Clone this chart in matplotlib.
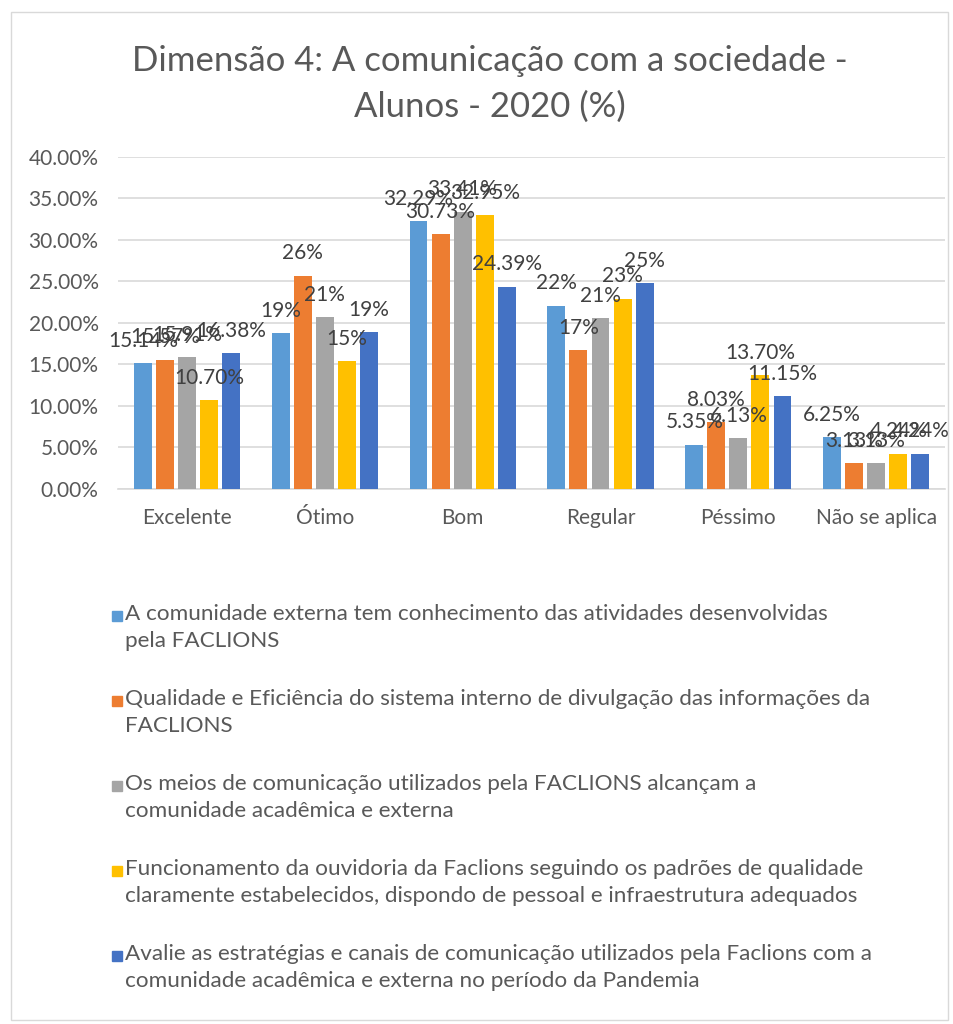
import matplotlib.pyplot as plt
from matplotlib.patches import Rectangle
from matplotlib.ticker import FuncFormatter
import numpy as np

categories = ["Excelente", "Ótimo", "Bom", "Regular", "Péssimo", "Não se aplica"]
series_names = [
    "A comunidade externa tem conhecimento das atividades desenvolvidas\npela FACLIONS",
    "Qualidade e Eficiência do sistema interno de divulgação das informações da\nFACLIONS",
    "Os meios de comunicação utilizados pela FACLIONS alcançam a\ncomunidade acadêmica e externa",
    "Funcionamento da ouvidoria da Faclions seguindo os padrões de qualidade\nclaramente estabelecidos, dispondo de pessoal e infraestrutura adequados",
    "Avalie as estratégias e canais de comunicação utilizados pela Faclions com a\ncomunidade acadêmica e externa no período da Pandemia",
]
s1 = [15.14, 18.8, 32.29, 22.1, 5.35, 6.25]
s2 = [15.57, 25.7, 30.73, 16.7, 8.03, 3.13]
s3 = [15.91, 20.7, 33.41, 20.6, 6.13, 3.13]
s4 = [10.70, 15.4, 32.95, 22.9, 13.70, 4.24]
s5 = [16.38, 18.9, 24.39, 24.8, 11.15, 4.24]
# label formats as shown in the chart (Ótimo/Regular show rounded %)
label_fmt = ["{:.2f}%", "{:.0f}%", "{:.2f}%", "{:.0f}%", "{:.2f}%", "{:.2f}%"]
colors = ["#5B9BD5", "#ED7D31", "#A5A5A5", "#FFC000", "#4472C4"]

plt.rcParams['font.family'] = ['Lato', 'DejaVu Sans']

fig = plt.figure(figsize=(9.54, 10.24), dpi=100)
fig.add_artist(Rectangle((0.012, 0.004), 0.982, 0.984, transform=fig.transFigure,
                         fill=False, edgecolor="#D9D9D9", lw=1))

ax = fig.add_axes([0.1237, 0.5225, 0.867, 0.3242])
x = np.arange(len(categories))
data = [s1, s2, s3, s4, s5]
w = 0.13
step = 0.16
for i, vals in enumerate(data):
    xs = x + (i - 2) * step
    ax.bar(xs, vals, width=w, color=colors[i], zorder=3)
    for j, v in enumerate(vals):
        ax.text(xs[j], v + 2.7, label_fmt[j].format(v), ha="center", va="center",
                fontsize=15, color="#404040", zorder=4)

ax.set_xlim(-0.5, len(categories) - 0.5)
ax.set_ylim(0, 40)
ax.set_yticks(np.arange(0, 41, 5))
ax.yaxis.set_major_formatter(FuncFormatter(lambda v, p: f"{v:.2f}%"))
ax.set_xticks(x)
ax.set_xticklabels(categories)
ax.tick_params(axis="both", length=0, labelsize=15, colors="#595959")
ax.tick_params(axis="x", pad=14)
ax.tick_params(axis="y", pad=14)
ax.grid(axis="y", color="#D9D9D9", lw=1.2, zorder=0)
for s in ["top", "right", "left"]:
    ax.spines[s].set_visible(False)
ax.spines["bottom"].set_color("#D9D9D9")
ax.spines["bottom"].set_linewidth(1.2)

fig.text(0.513, 0.940, "Dimensão 4: A comunicação com a sociedade -", ha="center", va="center",
         fontsize=25, color="#595959")
fig.text(0.513, 0.896, "Alunos - 2020 (%)", ha="center", va="center",
         fontsize=25, color="#595959")

# legend
top = 1 - 615 / 1024
for i, name in enumerate(series_names):
    yy = top - i * 85 / 1024
    fig.add_artist(Rectangle((112 / 954, yy - 6 / 1024), 10 / 954, 10 / 1024,
                             transform=fig.transFigure, color=colors[i]))
    fig.text(125 / 954, yy + 11 / 1024, name, ha="left", va="top", fontsize=16.2,
             color="#595959", linespacing=1.45)

fig.savefig("out.png", dpi=100)
